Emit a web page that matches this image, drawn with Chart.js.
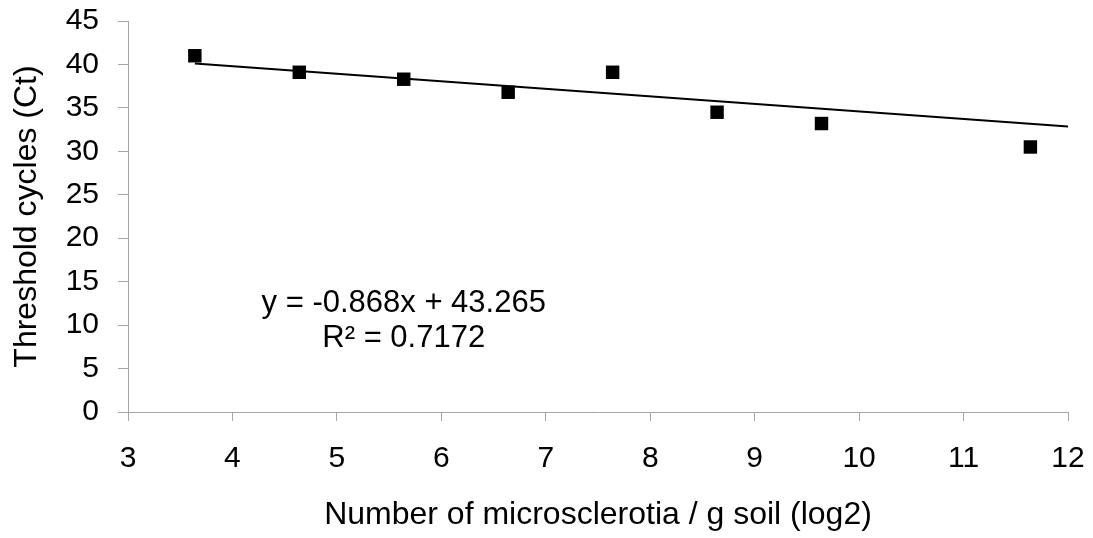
<!DOCTYPE html>
<html>
<head>
<meta charset="utf-8">
<script src="https://cdn.jsdelivr.net/npm/chart.js@4/dist/chart.umd.min.js"></script>
<style>
  html, body { margin: 0; padding: 0; background: #fff; }
  #wrap { width: 1093px; height: 538px; }
</style>
</head>
<body>
<div id="wrap"><canvas id="c" width="1093" height="538"></canvas></div>
<script>
// ---- data ----
const xLog2 = [3.64, 4.64, 5.64, 6.64, 7.64, 8.64, 9.64, 11.64];
const ctValues = [41.0, 39.1, 38.3, 36.8, 39.1, 34.5, 33.2, 30.5];
const trendX = [3.64, 12];
const trendY = [40.1, 32.85];
const xTicks = [3, 4, 5, 6, 7, 8, 9, 10, 11, 12];
const yTicks = [0, 5, 10, 15, 20, 25, 30, 35, 40, 45];
const xTitle = 'Number of microsclerotia / g soil (log2)';
const yTitle = 'Threshold cycles (Ct)';
const equationLines = ['y = -0.868x + 43.265', 'R² = 0.7172'];
const equationAnchor = { x: 5.64, y: 11.55 }; // data-space anchor of first line baseline

const FONT = 'Liberation Sans, Arial, sans-serif';
const AXIS_GRAY = '#a6a6a6';

const annotationPlugin = {
  id: 'equation',
  afterDraw(chart) {
    const ctx = chart.ctx;
    const xs = chart.scales.x, ys = chart.scales.y;
    const px = xs.getPixelForValue(equationAnchor.x);
    const py = ys.getPixelForValue(equationAnchor.y);
    ctx.save();
    ctx.font = '31px ' + FONT;
    ctx.fillStyle = '#000';
    ctx.textAlign = 'center';
    ctx.textBaseline = 'alphabetic';
    equationLines.forEach((t, i) => ctx.fillText(t, px, py + i * 35));
    ctx.restore();
  }
};

new Chart(document.getElementById('c'), {
  type: 'line',
  data: {
    datasets: [
      {
        label: 'Ct',
        data: xLog2.map((x, i) => ({ x, y: ctValues[i] })),
        showLine: false,
        pointStyle: 'rect',
        pointRadius: 9.5,
        pointHoverRadius: 9.5,
        backgroundColor: '#000',
        borderColor: '#000',
        borderWidth: 0,
        order: 0
      },
      {
        label: 'Trend',
        data: trendX.map((x, i) => ({ x, y: trendY[i] })),
        showLine: true,
        borderColor: '#000',
        borderWidth: 2,
        pointRadius: 0,
        fill: false,
        order: 1
      }
    ]
  },
  options: {
    responsive: false,
    animation: false,
    events: [],
    layout: { padding: { top: 21, right: 25, bottom: 0, left: 0 } },
    plugins: { legend: { display: false }, tooltip: { enabled: false } },
    scales: {
      x: {
        type: 'linear',
        min: 3, max: 12,
        afterBuildTicks: s => { s.ticks = xTicks.map(v => ({ value: v })); },
        afterFit: s => { s.height = 126; s.paddingLeft = 0; s.paddingRight = 0; },
        border: { display: true, color: AXIS_GRAY, width: 1 },
        grid: { display: true, drawOnChartArea: false, drawTicks: true, tickLength: 9, color: AXIS_GRAY },
        ticks: { color: '#000', font: { family: FONT, size: 30 }, padding: 20, maxRotation: 0 },
        title: { display: true, text: xTitle, color: '#000', font: { family: FONT, size: 32 }, padding: { top: 0, bottom: 4 } }
      },
      y: {
        type: 'linear',
        min: 0, max: 45,
        afterBuildTicks: s => { s.ticks = yTicks.map(v => ({ value: v })); },
        afterFit: s => { s.width = 128; s.paddingTop = 0; s.paddingBottom = 0; },
        border: { display: true, color: AXIS_GRAY, width: 1 },
        grid: { display: true, drawOnChartArea: false, drawTicks: true, tickLength: 10, color: AXIS_GRAY },
        ticks: { color: '#000', font: { family: FONT, size: 30 }, padding: 19 },
        title: { display: true, text: yTitle, color: '#000', font: { family: FONT, size: 32 }, padding: { top: 8, bottom: 0 } }
      }
    }
  },
  plugins: [annotationPlugin]
});
</script>
</body>
</html>
